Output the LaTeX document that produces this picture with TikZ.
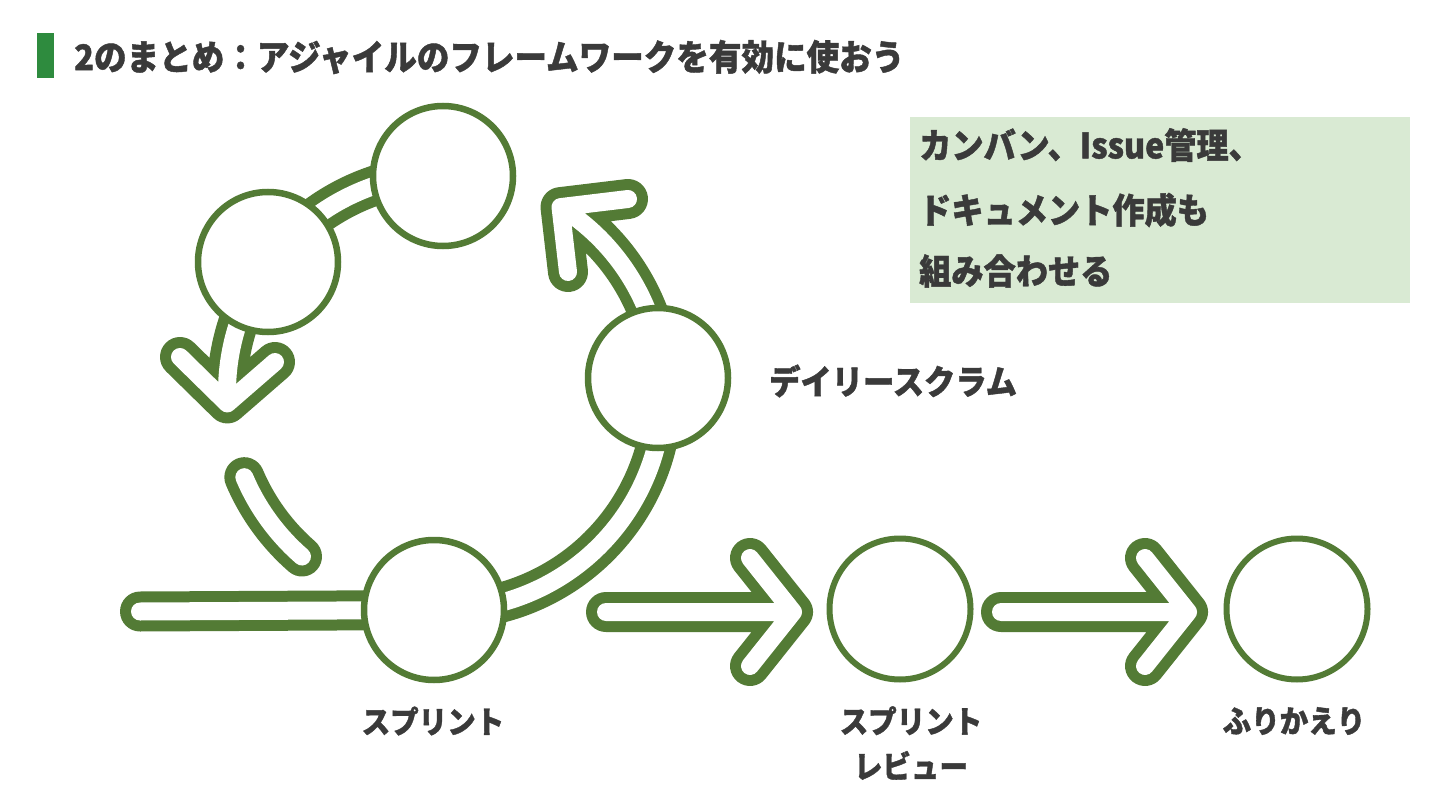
\documentclass[tikz,border=0pt]{standalone}
\usepackage{fontspec}
\setmainfont{Noto Sans CJK JP}[FakeStretch=0.92, BoldFeatures={FakeBold=1.2}]
\definecolor{gr}{HTML}{537B35}
\definecolor{bar}{HTML}{2E8B3E}
\definecolor{txt}{HTML}{3A3A3A}
\definecolor{boxfill}{HTML}{D9EAD3}
\tikzset{
  band/.style={draw=gr, line width=11pt, double=white, double distance=18pt, line cap=round, line join=round},
  ring/.style={circle, draw=gr, line width=6.5pt, fill=white, minimum size=140pt, inner sep=0pt},
  lbl/.style={text=txt, font=\fontsize{31}{45}\selectfont\bfseries, inner sep=0pt},
  boxtxt/.style={text=txt, font=\fontsize{35}{40}\selectfont\bfseries, inner sep=0pt, anchor=west},
}
\begin{document}
\begin{tikzpicture}[x=1pt,y=-1pt]
\useasboundingbox (0,0) rectangle (1440,810);
\fill[white] (0,0) rectangle (1440,810);
% title
\fill[bar] (37,33) rectangle (54,78);
\node[text=txt, font=\fontsize{35.4}{40}\selectfont\bfseries, anchor=west, inner sep=0pt] (title) at (74,57) {2のまとめ：アジャイルのフレームワークを有効に使おう};
% box
\fill[boxfill] (910,117) rectangle (1410,303);
\node[boxtxt] (b1) at (919,145) {カンバン、Issue管理、};
\node[boxtxt] (b2) at (919,210) {ドキュメント作成も};
\node[boxtxt] (b3) at (919,271) {組み合わせる};
% cycle geometry
\coordinate (V1) at ({445+218*cos(-58)},{392+218*sin(-58)});
\coordinate (V2) at ({445+218*cos(-183)},{392+218*sin(-183)});
\coordinate (A1) at (628,199);
\coordinate (A2) at (568,272);
\coordinate (B1) at (180,357);
\coordinate (B2) at (275,362);
\coordinate (SP) at (434,610);
\coordinate (H0) at (140,611.5);
% bands
\draw[band] plot[domain=93:-58, samples=80, smooth] ({445+218*cos(\x)},{392+218*sin(\x)})
   (A1) -- (V1) -- (A2);
\draw[band] plot[domain=-90:-183, samples=60, smooth] ({445+218*cos(\x)},{392+218*sin(\x)})
   (B1) -- (V2) -- (B2);
\draw[band] plot[domain=-203:-229, samples=20, smooth] ({445+218*cos(\x)},{392+218*sin(\x)});
\draw[band] (H0) -- (SP);
% circles
\node[ring] (top) at (443,176) {};
\node[ring] (left) at (268,262) {};
\node[ring] (daily) at (658,378) {};
\node[ring] (sprint) at (SP) {};
\node[ring, minimum size=141pt, line width=6pt] (review) at (900,609) {};
\node[ring, minimum size=141pt, line width=6pt] (retro) at (1297,609) {};
% right arrows
\coordinate (S1) at (606,612);
\coordinate (T1) at (793,612);
\coordinate (U1) at (750,558);
\coordinate (W1) at (750,666);
\draw[band] (S1) -- (T1) (U1) -- (T1) -- (W1);
\coordinate (S2) at (1001,612);
\coordinate (T2) at (1188,612);
\coordinate (U2) at (1145,558);
\coordinate (W2) at (1145,666);
\draw[band] (S2) -- (T2) (U2) -- (T2) -- (W2);
% labels
\node[lbl, anchor=west, font=\fontsize{34}{40}\selectfont\bfseries] (ldaily) at (769,381) {デイリースクラム};
\node[lbl] (lsprint) at (433,721) {スプリント};
\node[lbl, align=center] (lreview) at (911,743) {スプリント\\レビュー};
\node[lbl] (lretro) at (1294,721) {ふりかえり};
\end{tikzpicture}
\end{document}
